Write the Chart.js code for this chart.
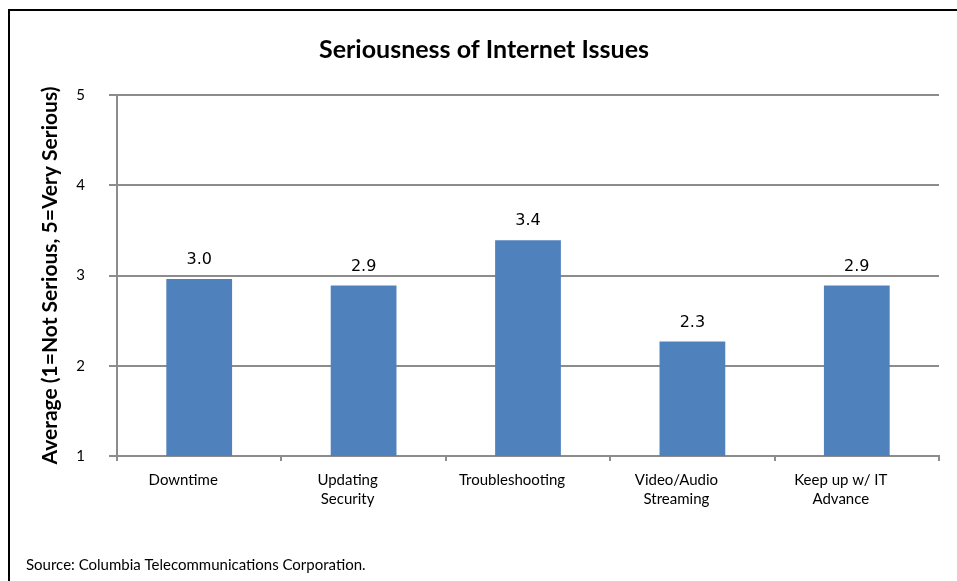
<!DOCTYPE html>
<html>
<head>
<meta charset="utf-8">
<script src="https://cdn.jsdelivr.net/npm/chart.js@4/dist/chart.umd.min.js"></script>
<style>
  html, body { margin: 0; padding: 0; background: #fff; }
  #wrap { position: relative; width: 957px; height: 581px; }
  #frame { position: absolute; left: 8px; top: 9px; width: 960px; height: 600px;
           border-left: 2px solid #000; border-top: 2px solid #000; box-sizing: border-box; }
  #chart { position: absolute; left: 0; top: 0; }
</style>
</head>
<body>
<div id="wrap">
  <div id="frame"></div>
  <canvas id="chart" width="957" height="581"></canvas>
</div>
<script>
const issues = [['Downtime'], ['Updating', 'Security'], ['Troubleshooting'], ['Video/Audio', 'Streaming'], ['Keep up w/ IT', 'Advance']];
const averages = [2.96, 2.89, 3.39, 2.27, 2.89];
const yTicks = [1, 2, 3, 4, 5];

const grey = '#8c8c8c';
const bodyFont = "Lato, 'Open Sans', sans-serif";

// title, value labels over the bars and the source note
const extraText = {
    id: 'extraText',
    afterDatasetsDraw(chart) {
        const ctx = chart.ctx;
        const meta = chart.getDatasetMeta(0);
        ctx.save();
        ctx.fillStyle = '#000';
        ctx.textAlign = 'center';
        ctx.textBaseline = 'middle';
        ctx.font = "bold 25px " + bodyFont;
        ctx.fillText('Seriousness of Internet Issues', 484, 50);

        ctx.font = "16px 'DejaVu Sans', sans-serif";
        ctx.textBaseline = 'bottom';
        meta.data.forEach((bar, i) => {
            ctx.fillText(averages[i].toFixed(1), bar.x, bar.y - 11);
        });

        ctx.font = "15px " + bodyFont;
        ctx.textAlign = 'left';
        ctx.textBaseline = 'middle';
        ctx.fillText('Source: Columbia Telecommunications Corporation.', 26, 565);
        ctx.restore();
    }
};

new Chart(document.getElementById('chart'), {
    type: 'bar',
    data: {
        labels: issues,
        datasets: [{
            data: averages,
            backgroundColor: '#4f81bd',
            borderWidth: 0,
            categoryPercentage: 1,
            barPercentage: 0.4
        }]
    },
    options: {
        responsive: false,
        animation: false,
        layout: { padding: { left: 0, right: 18, top: 95, bottom: 0 } },
        plugins: {
            legend: { display: false },
            tooltip: { enabled: false },
            title: { display: false }
        },
        scales: {
            x: {
                grid: { offset: true, drawOnChartArea: false, color: grey, lineWidth: 2, tickLength: 5 },
                border: { color: grey, width: 2 },
                ticks: { color: '#000', font: { family: bodyFont, size: 15, lineHeight: 1.3 }, padding: 9, maxRotation: 0, labelOffset: -16 },
                afterFit(scale) { scale.height = 581 - 456; }
            },
            y: {
                min: 1,
                max: 5,
                afterBuildTicks(scale) { scale.ticks = yTicks.map(v => ({ value: v })); },
                grid: { color: grey, lineWidth: 2, tickLength: 8 },
                border: { color: grey, width: 2 },
                ticks: { color: '#000', font: { family: bodyFont, size: 15 }, padding: 24 },
                title: {
                    display: true,
                    text: 'Average (1=Not Serious, 5=Very Serious)',
                    color: '#000',
                    font: { family: bodyFont, size: 21, weight: 'bold', lineHeight: 1.2 },
                    padding: { top: 38, bottom: 0 }
                },
                afterFit(scale) { scale.width = 117; }
            }
        }
    },
    plugins: [extraText]
});
</script>
</body>
</html>
